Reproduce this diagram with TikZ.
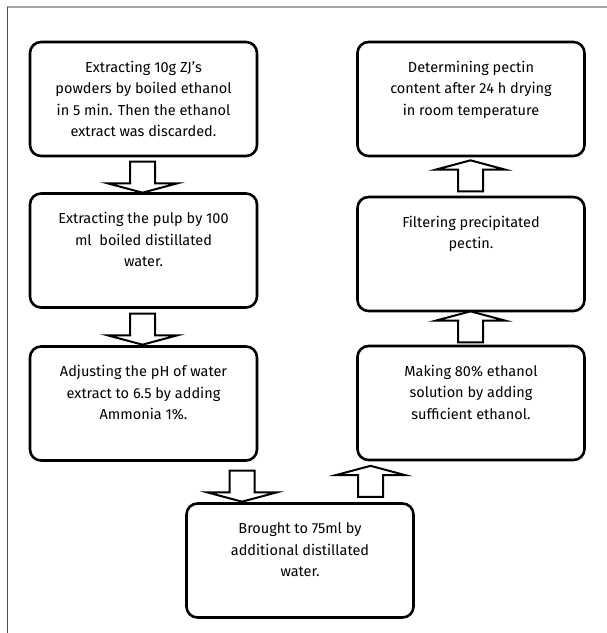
\documentclass[tikz,border=0pt]{standalone}
\usepackage{fontspec}
\setmainfont{Fira Sans}
\usepackage{tikz}
\usetikzlibrary{arrows, shapes}

\newcommand{\steptext}[1]{\parbox[c][114pt][t]{220pt}{\centering\vspace*{15pt}\strut #1}}

\begin{document}
\begin{tikzpicture}[x=1pt, y=-1pt,
	stepbox/.style={draw, line width=2.6pt, rounded corners=11pt, minimum width=227pt, minimum height=114pt, inner sep=0pt, font=\fontsize{14.5pt}{21.5pt}\selectfont},
	blockarrow/.style={single arrow, draw, line width=2pt, fill=white, minimum height=31pt, inner xsep=0pt, inner ysep=11.5pt, single arrow head extend=22pt, single arrow tip angle=150},
	arrdown/.style={blockarrow, rotate=-90},
	arrup/.style={blockarrow, rotate=90}]
		\useasboundingbox (0,0) rectangle (607,633);
		\draw[gray!70, line width=1.5pt] (7,7) -- (607,7);
		\draw[black!70, line width=0.8pt] (7,7) -- (7,633);

		\node[stepbox] (extract) at (143.5,99) {\steptext{Extracting 10g ZJ’s\\ powders by boiled ethanol\\ in 5 min. Then the ethanol\\ extract was discarded.}};
		\node[stepbox] (pulp) at (143.5,250.5) {\steptext{Extracting the pulp by 100\\ ml~ boiled distillated\\ water.}};
		\node[stepbox] (ph) at (143.5,403.5) {\steptext{Adjusting the pH of water\\ extract to 6.5 by adding\\ Ammonia 1\%.}};
		\node[stepbox] (volume) at (300,560.5) {\steptext{Brought to 75ml by\\ additional distillated\\ water.}};
		\node[stepbox] (ethanol) at (471,403) {\steptext{Making 80\% ethanol\\ solution by adding\\ sufficient ethanol.}};
		\node[stepbox] (filter) at (471,254) {\steptext{Filtering precipitated\\ pectin.}};
		\node[stepbox] (pectin) at (471,99) {\steptext{Determining pectin\\ content after 24 h drying\\ in room temperature}};

		\node[arrdown] (a1) at (142.5,175.5) {};
		\node[arrdown] (a2) at (142.5,327.5) {};
		\node[arrdown] (a3) at (242,484.5) {};
		\node[arrup] (a4) at (370.5,483) {};
		\node[arrup] (a5) at (470.5,328.5) {};
		\node[arrup] (a6) at (470.5,177.5) {};
	\end{tikzpicture}
\end{document}
